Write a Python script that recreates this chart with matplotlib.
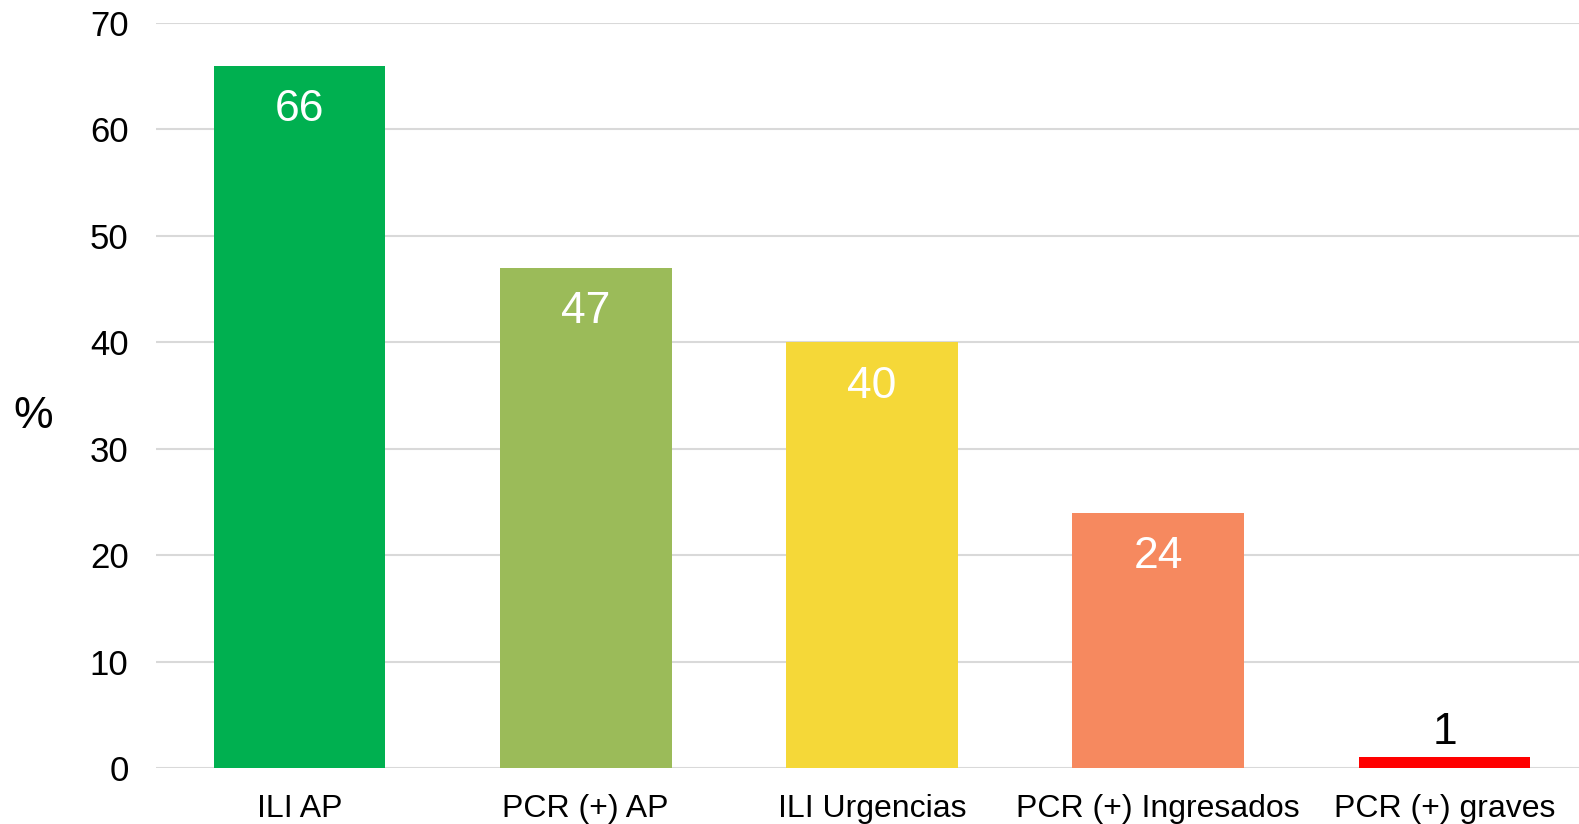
import matplotlib
matplotlib.use("Agg")
import matplotlib.pyplot as plt

plt.rcParams['font.family'] = ['Liberation Sans', 'DejaVu Sans']

# datos
categorias = ['ILI AP', 'PCR (+) AP', 'ILI Urgencias', 'PCR (+) Ingresados', 'PCR (+) graves']
valores = [66, 47, 40, 24, 1]
colores = ['#00B050', '#9BBB59', '#F5D838', '#F6895F', '#FF0000']
yticks = [0, 10, 20, 30, 40, 50, 60, 70]

fig = plt.figure(figsize=(15.79, 8.24), dpi=100)
ax = fig.add_axes([0.099, 0.068, 0.901, 0.904])

x = list(range(len(categorias)))
bars = ax.bar(x, valores, width=0.6, color=colores, zorder=3)

for b, v in zip(bars, valores):
    if v > 5:
        ax.text(b.get_x() + b.get_width() / 2, v - 2.2, str(v), ha='center', va='top',
                color='white', fontsize=32, zorder=4)
    else:
        ax.text(b.get_x() + b.get_width() / 2, v + 0.4, str(v), ha='center', va='bottom',
                color='black', fontsize=32, zorder=4)

ax.set_xlim(-0.5, 4.47)
ax.set_ylim(0, 70)
ax.set_yticks(yticks)
ax.set_xticks(x)
ax.set_xticklabels(categorias)
ax.tick_params(axis='y', labelsize=25, length=0, pad=20)
ax.tick_params(axis='x', labelsize=23, length=0, pad=19)

ax.grid(axis='y', color='#D9D9D9', linewidth=1.5, zorder=0)
for s in ax.spines.values():
    s.set_visible(False)

fig.text(0.021, 0.495, '%', fontsize=32, ha='center', va='center')

fig.savefig('out.png', dpi=100)
